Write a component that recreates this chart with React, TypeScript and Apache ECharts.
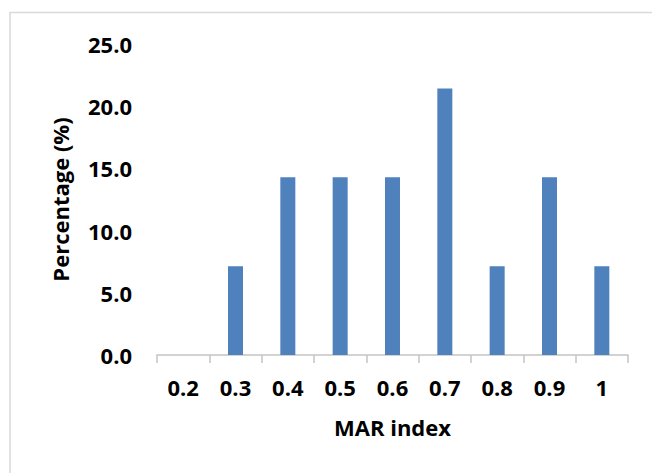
import React, { useEffect, useRef } from "react";
import * as echarts from "echarts";

const categories = ["0.2", "0.3", "0.4", "0.5", "0.6", "0.7", "0.8", "0.9", "1"];
const percentages = [0, 7.14, 14.29, 14.29, 14.29, 21.43, 7.14, 14.29, 7.14];
const yTicks = { min: 0, max: 25, interval: 5 };

const FONT = "'Open Sans', sans-serif";
const AXIS_GREY = "#c4c4c4";

export default function App() {
  const ref = useRef<HTMLDivElement>(null);

  useEffect(() => {
    document.body.style.margin = "0";
    const chart = echarts.init(ref.current!, null, { renderer: "svg" });
    const textStyle = { fontFamily: FONT, fontWeight: "bold", fontSize: 22, color: "#000" };
    chart.setOption({
      animation: false,
      backgroundColor: "#ffffff",
      graphic: [
        {
          type: "rect",
          shape: { x: 10, y: 12.5, width: 700, height: 520 },
          style: { fill: "none", stroke: "#d9d9d9", lineWidth: 1.5 },
          silent: true,
        },
      ],
      grid: { left: 157, right: 24, top: 44, bottom: 118 },
      xAxis: {
        type: "category",
        data: categories,
        name: "MAR index",
        nameLocation: "middle",
        nameGap: 61,
        nameMoveOverlap: false,
        nameTextStyle: textStyle,
        axisLine: { lineStyle: { color: AXIS_GREY, width: 1.5 } },
        axisTick: {
          show: true,
          alignWithLabel: false,
          interval: 0,
          length: 8,
          lineStyle: { color: AXIS_GREY, width: 1.5 },
        },
        axisLabel: { margin: 21, ...textStyle },
      },
      yAxis: {
        type: "value",
        min: yTicks.min,
        max: yTicks.max,
        interval: yTicks.interval,
        name: "Percentage (%)",
        nameLocation: "middle",
        nameGap: 86,
        nameMoveOverlap: false,
        nameTextStyle: textStyle,
        axisLine: { show: false },
        axisTick: { show: false },
        splitLine: { show: false },
        axisLabel: {
          margin: 25,
          ...textStyle,
          formatter: (v: number) => v.toFixed(1),
        },
      },
      series: [
        {
          type: "bar",
          data: percentages,
          barWidth: 15,
          itemStyle: { color: "#4f81bd" },
        },
      ],
    });
    return () => chart.dispose();
  }, []);

  return <div ref={ref} style={{ width: 652, height: 473 }} />;
}
